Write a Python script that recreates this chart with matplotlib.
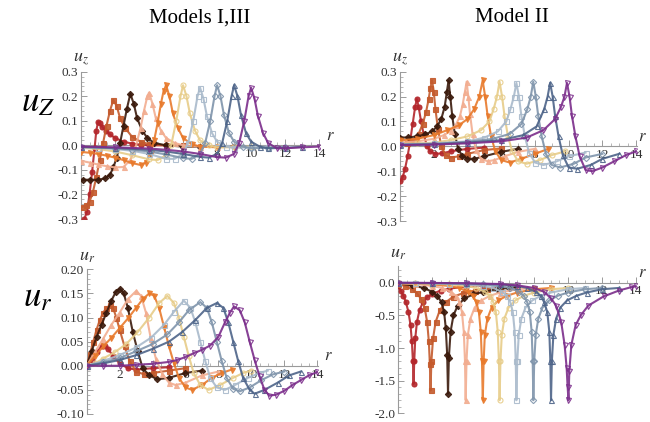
import numpy as np
import matplotlib
matplotlib.use("Agg")
import matplotlib.pyplot as plt
from matplotlib.ticker import MultipleLocator

plt.rcParams['font.family'] = ['Liberation Serif', 'DejaVu Serif']
plt.rcParams['mathtext.fontset'] = 'stix'

COLORS = ['#b3262b', '#c45a2c', '#3b1a0c', '#f2ad90', '#e87a2c',
          '#e7cc88', '#a9bacb', '#7f94ab', '#4d6489', '#7b2d8b']
MARKERS = ['o', 's', 'D', '^', 'v', 'o', 's', 'D', '^', 'v']
FILLED = [True] * 5 + [False] * 5

# top left: u_z, Models I,III
TL_R = [
    [0.2, 0.35, 0.5, 0.65, 0.8, 0.9, 1.0, 1.1, 1.25, 1.45, 1.7, 2.0, 2.5, 3.0, 3.5, 4.0, 5.0],
    [0.1, 0.3, 0.5, 0.7, 0.9, 1.1, 1.3, 1.5, 1.7, 1.9, 2.1, 2.3, 2.6, 3.0, 3.5, 4.0, 5.0, 6.0],
    [0.1, 0.5, 1.0, 1.4, 1.7, 1.9, 2.1, 2.3, 2.5, 2.7, 2.9, 3.1, 3.3, 3.6, 3.9, 4.3, 5.0, 6.0, 7.0],
    [0.0, 0.5, 1.0, 1.5, 2.0, 2.5, 2.9, 3.2, 3.5, 3.7, 3.9, 4.0, 4.2, 4.4, 4.7, 5.0, 5.5, 6.0, 7.0, 8.0],
    [0.0, 0.5, 1.0, 1.5, 2.0, 2.5, 3.0, 3.5, 3.8, 4.1, 4.3, 4.5, 4.7, 4.85, 5.0, 5.2, 5.4, 5.7, 6.0, 6.5, 7.0, 8.0, 9.0],
    [0.0, 1.0, 2.0, 3.0, 4.0, 4.5, 5.0, 5.3, 5.6, 5.85, 6.0, 6.2, 6.4, 6.7, 7.0, 7.5, 8.0, 9.0, 10.0],
    [0.0, 1.0, 2.0, 3.0, 4.0, 5.0, 5.5, 6.0, 6.3, 6.6, 6.85, 7.0, 7.2, 7.4, 7.7, 8.0, 8.5, 9.0, 10.0, 11.0],
    [0.0, 2.0, 3.0, 4.0, 5.0, 6.0, 6.5, 7.0, 7.3, 7.6, 7.85, 8.0, 8.2, 8.4, 8.7, 9.0, 9.5, 10.0, 11.0, 12.0],
    [0.0, 2.0, 4.0, 5.0, 6.0, 7.0, 7.5, 8.0, 8.3, 8.6, 8.85, 9.0, 9.2, 9.4, 9.7, 10.0, 10.5, 11.0, 12.0, 13.0],
    [0.0, 2.0, 4.0, 5.0, 6.0, 7.0, 8.0, 8.5, 9.0, 9.3, 9.6, 9.85, 10.0, 10.2, 10.4, 10.7, 11.0, 11.5, 12.0, 13.0, 14.0],
]
TL_U = [
    [-0.30, -0.27, -0.20, -0.11, -0.01, 0.06, 0.095, 0.09, 0.075, 0.06, 0.045, 0.03, 0.015, 0.007, 0.003, 0.0, 0.0],
    [-0.25, -0.245, -0.23, -0.19, -0.13, -0.06, 0.01, 0.08, 0.14, 0.185, 0.16, 0.11, 0.07, 0.035, 0.015, 0.005, 0.0, 0.0],
    [-0.14, -0.14, -0.14, -0.135, -0.12, -0.09, -0.05, 0.01, 0.08, 0.15, 0.21, 0.17, 0.11, 0.06, 0.03, 0.01, 0.0, -0.005, -0.005],
    [-0.063, -0.07, -0.078, -0.085, -0.09, -0.088, -0.06, -0.01, 0.07, 0.14, 0.2, 0.215, 0.17, 0.11, 0.06, 0.03, 0.01, 0.0, -0.005, -0.005],
    [-0.027, -0.03, -0.035, -0.042, -0.05, -0.06, -0.072, -0.08, -0.07, -0.03, 0.02, 0.09, 0.17, 0.22, 0.245, 0.2, 0.13, 0.07, 0.03, 0.005, -0.005, -0.008, -0.005],
    [-0.01, -0.015, -0.025, -0.04, -0.057, -0.06, -0.04, 0.0, 0.1, 0.2, 0.245, 0.2, 0.13, 0.06, 0.02, 0.0, -0.008, -0.008, -0.005],
    [-0.008, -0.01, -0.015, -0.022, -0.035, -0.055, -0.055, -0.035, 0.01, 0.1, 0.2, 0.235, 0.19, 0.12, 0.05, 0.015, -0.005, -0.01, -0.008, -0.005],
    [-0.007, -0.012, -0.017, -0.025, -0.037, -0.052, -0.055, -0.035, 0.01, 0.1, 0.2, 0.245, 0.2, 0.125, 0.05, 0.015, -0.005, -0.012, -0.01, -0.006],
    [-0.006, -0.01, -0.018, -0.025, -0.035, -0.047, -0.05, -0.035, 0.01, 0.1, 0.2, 0.245, 0.2, 0.125, 0.05, 0.015, -0.005, -0.012, -0.01, -0.006],
    [-0.005, -0.008, -0.013, -0.018, -0.025, -0.035, -0.048, -0.05, -0.035, 0.01, 0.1, 0.2, 0.235, 0.19, 0.12, 0.05, 0.01, -0.012, -0.012, -0.008, -0.005],
]

# top right: u_z, Model II
TR_R = [
    [0.0, 0.15, 0.3, 0.45, 0.6, 0.75, 0.9, 1.0, 1.1, 1.25, 1.4, 1.6, 1.8, 2.1, 2.5, 3.0, 4.0, 5.0],
    [0.0, 0.4, 0.8, 1.1, 1.35, 1.55, 1.7, 1.8, 1.9, 2.0, 2.1, 2.25, 2.45, 2.7, 3.0, 3.5, 4.0, 5.0, 6.0],
    [0.0, 0.5, 1.0, 1.5, 1.9, 2.2, 2.45, 2.65, 2.78, 2.88, 2.98, 3.1, 3.25, 3.45, 3.7, 4.0, 4.4, 5.0, 6.0, 7.0],
    [0.0, 1.0, 2.0, 2.6, 3.0, 3.3, 3.55, 3.72, 3.85, 3.95, 4.05, 4.15, 4.3, 4.5, 4.8, 5.2, 5.6, 6.2, 7.0, 8.0],
    [0.0, 1.0, 2.0, 2.8, 3.5, 4.0, 4.4, 4.7, 4.9, 5.05, 5.2, 5.4, 5.65, 6.0, 6.5, 7.2, 8.0, 8.8],
    [0.0, 1.0, 2.0, 3.0, 4.0, 4.8, 5.3, 5.55, 5.75, 5.9, 6.05, 6.2, 6.4, 6.65, 7.0, 7.5, 8.3, 9.0, 9.8],
    [0.0, 2.0, 4.0, 5.0, 5.8, 6.3, 6.55, 6.75, 6.9, 7.05, 7.2, 7.4, 7.65, 8.0, 8.5, 9.3, 10.0, 11.0],
    [0.0, 2.0, 4.0, 5.5, 6.5, 7.2, 7.55, 7.75, 7.9, 8.05, 8.2, 8.4, 8.65, 9.0, 9.5, 10.3, 11.0, 12.0],
    [0.0, 2.0, 4.0, 6.0, 7.3, 8.1, 8.55, 8.75, 8.9, 9.05, 9.2, 9.4, 9.65, 10.0, 10.5, 11.3, 12.0, 13.0],
    [0.0, 2.0, 4.0, 6.0, 7.5, 8.5, 9.2, 9.55, 9.75, 9.9, 10.05, 10.2, 10.4, 10.65, 11.0, 11.4, 12.0, 12.7, 13.4, 14.0],
]
TR_U = [
    [-0.14, -0.125, -0.09, -0.04, 0.02, 0.09, 0.16, 0.19, 0.16, 0.1, 0.05, 0.0, -0.02, -0.03, -0.028, -0.02, -0.01, -0.005],
    [0.01, 0.015, 0.025, 0.05, 0.09, 0.14, 0.19, 0.235, 0.265, 0.22, 0.15, 0.07, 0.0, -0.035, -0.045, -0.04, -0.03, -0.015, -0.008],
    [0.035, 0.036, 0.04, 0.048, 0.06, 0.08, 0.11, 0.16, 0.22, 0.265, 0.2, 0.12, 0.05, -0.01, -0.04, -0.05, -0.05, -0.04, -0.022, -0.01],
    [0.015, 0.02, 0.03, 0.045, 0.062, 0.085, 0.12, 0.17, 0.22, 0.26, 0.2, 0.13, 0.05, -0.015, -0.05, -0.06, -0.055, -0.04, -0.022, -0.01],
    [0.024, 0.03, 0.045, 0.065, 0.085, 0.11, 0.15, 0.2, 0.265, 0.2, 0.12, 0.04, -0.02, -0.055, -0.065, -0.05, -0.03, -0.01],
    [0.01, 0.012, 0.015, 0.025, 0.04, 0.065, 0.1, 0.15, 0.2, 0.26, 0.2, 0.12, 0.04, -0.02, -0.06, -0.07, -0.055, -0.035, -0.02],
    [0.008, 0.012, 0.02, 0.035, 0.06, 0.1, 0.15, 0.2, 0.255, 0.2, 0.12, 0.04, -0.025, -0.065, -0.075, -0.06, -0.04, -0.025],
    [0.007, 0.01, 0.018, 0.03, 0.05, 0.09, 0.15, 0.2, 0.26, 0.2, 0.12, 0.04, -0.03, -0.075, -0.085, -0.07, -0.045, -0.03],
    [0.006, 0.008, 0.015, 0.025, 0.045, 0.08, 0.15, 0.2, 0.255, 0.2, 0.12, 0.04, -0.035, -0.085, -0.09, -0.075, -0.05, -0.03],
    [0.005, 0.007, 0.012, 0.02, 0.035, 0.065, 0.11, 0.16, 0.2, 0.255, 0.2, 0.12, 0.04, -0.04, -0.095, -0.1, -0.085, -0.06, -0.035, -0.02],
]

# bottom left: u_r, Models I,III
BL_R = [
    [0.0, 0.3, 0.6, 0.9, 1.1, 1.3, 1.6, 2.0, 2.5, 3.0, 4.0, 5.0],
    [0.0, 0.2, 0.4, 0.6, 0.8, 1.0, 1.2, 1.4, 1.6, 1.8, 2.0, 2.3, 2.6, 3.0, 3.5, 4.0, 5.0, 6.0],
    [0.0, 0.3, 0.6, 0.9, 1.2, 1.5, 1.75, 2.0, 2.25, 2.5, 2.8, 3.1, 3.4, 3.8, 4.3, 5.0, 6.0, 7.0],
    [0.0, 0.5, 1.0, 1.5, 2.0, 2.5, 3.0, 3.3, 3.6, 3.9, 4.2, 4.6, 5.0, 5.4, 6.0, 7.0, 8.0],
    [0.0, 0.5, 1.0, 1.5, 2.0, 2.5, 3.0, 3.4, 3.8, 4.1, 4.4, 4.7, 5.0, 5.3, 5.6, 6.0, 6.4, 7.0, 7.6, 8.2, 8.8],
    [0.0, 0.5, 1.0, 1.7, 2.4, 3.1, 3.8, 4.4, 4.9, 5.3, 5.6, 5.9, 6.2, 6.5, 6.9, 7.4, 8.1, 8.9, 9.5, 10.0],
    [0.0, 1.0, 2.0, 3.0, 3.9, 4.7, 5.3, 5.9, 6.3, 6.6, 6.9, 7.2, 7.5, 7.9, 8.4, 9.0, 9.8, 10.5, 11.0],
    [0.0, 1.0, 2.0, 3.0, 4.0, 4.9, 5.6, 6.2, 6.9, 7.3, 7.6, 7.9, 8.2, 8.5, 8.9, 9.3, 9.9, 10.6, 11.3, 12.0],
    [0.0, 1.0, 2.0, 3.0, 4.0, 5.0, 5.8, 6.6, 7.3, 7.9, 8.3, 8.6, 8.9, 9.2, 9.5, 9.9, 10.2, 10.8, 11.6, 12.3, 13.0],
    [0.0, 1.0, 2.0, 3.0, 4.0, 5.0, 5.5, 6.0, 6.5, 7.0, 7.5, 8.0, 8.4, 8.7, 8.95, 9.3, 9.6, 9.9, 10.2, 10.5, 10.8, 11.1, 11.5, 12.0, 12.5, 13.0, 13.5, 14.0],
]
BL_U = [
    [0.0, 0.012, 0.028, 0.04, 0.042, 0.035, 0.02, 0.005, -0.005, -0.008, -0.005, -0.003],
    [0.0, 0.025, 0.05, 0.075, 0.095, 0.11, 0.12, 0.125, 0.12, 0.1, 0.075, 0.04, 0.01, -0.012, -0.018, -0.015, -0.01, -0.005],
    [0.0, 0.03, 0.06, 0.085, 0.11, 0.135, 0.152, 0.16, 0.15, 0.12, 0.07, 0.03, -0.005, -0.02, -0.028, -0.025, -0.015, -0.01],
    [0.0, 0.028, 0.056, 0.085, 0.11, 0.138, 0.155, 0.145, 0.11, 0.055, 0.015, -0.018, -0.035, -0.04, -0.035, -0.02, -0.012],
    [0.0, 0.02, 0.04, 0.058, 0.078, 0.098, 0.12, 0.138, 0.15, 0.145, 0.12, 0.08, 0.04, 0.005, -0.025, -0.045, -0.05, -0.04, -0.025, -0.015, -0.008],
    [0.0, 0.005, 0.015, 0.028, 0.045, 0.07, 0.1, 0.13, 0.145, 0.13, 0.1, 0.06, 0.02, -0.015, -0.04, -0.05, -0.04, -0.025, -0.015, -0.01],
    [0.0, 0.01, 0.022, 0.038, 0.058, 0.085, 0.112, 0.135, 0.12, 0.09, 0.05, 0.01, -0.025, -0.045, -0.05, -0.04, -0.025, -0.015, -0.01],
    [0.0, 0.007, 0.016, 0.03, 0.045, 0.065, 0.09, 0.115, 0.132, 0.12, 0.09, 0.05, 0.01, -0.025, -0.048, -0.053, -0.045, -0.03, -0.018, -0.012],
    [0.0, 0.005, 0.012, 0.022, 0.035, 0.05, 0.07, 0.095, 0.12, 0.13, 0.12, 0.09, 0.05, 0.01, -0.025, -0.05, -0.058, -0.05, -0.035, -0.02, -0.012],
    [0.0, 0.0, 0.0, 0.002, 0.004, 0.008, 0.012, 0.018, 0.026, 0.033, 0.042, 0.06, 0.09, 0.11, 0.123, 0.115, 0.09, 0.05, 0.012, -0.022, -0.05, -0.062, -0.06, -0.052, -0.04, -0.03, -0.02, -0.013],
]

# bottom right: u_r, Model II
BR_R = [
    [0.0, 0.15, 0.3, 0.45, 0.6, 0.72, 0.8, 0.86, 0.9, 0.94, 1.0, 1.1, 1.25, 1.45, 1.7, 2.0, 2.5, 3.0, 4.0, 5.0],
    [0.0, 0.4, 0.8, 1.1, 1.35, 1.55, 1.7, 1.8, 1.86, 1.9, 1.95, 2.05, 2.2, 2.45, 2.8, 3.2, 3.8, 4.5, 5.2, 6.0],
    [0.0, 0.8, 1.5, 2.0, 2.3, 2.55, 2.7, 2.8, 2.88, 2.93, 2.98, 3.08, 3.25, 3.5, 3.9, 4.4, 5.0, 5.8, 6.5, 7.0],
    [0.0, 1.0, 2.0, 2.6, 3.1, 3.4, 3.6, 3.75, 3.86, 3.93, 3.97, 4.02, 4.1, 4.25, 4.5, 4.9, 5.4, 6.0, 7.0, 8.0],
    [0.0, 1.0, 2.0, 3.0, 3.6, 4.1, 4.4, 4.6, 4.75, 4.86, 4.93, 4.98, 5.03, 5.1, 5.25, 5.5, 5.9, 6.4, 7.0, 8.0, 9.0],
    [0.0, 1.0, 2.0, 3.0, 4.0, 4.6, 5.1, 5.4, 5.6, 5.75, 5.86, 5.93, 5.97, 6.02, 6.1, 6.25, 6.5, 6.9, 7.4, 8.0, 9.0, 10.0],
    [0.0, 1.0, 2.0, 3.0, 4.0, 5.0, 5.6, 6.1, 6.4, 6.6, 6.75, 6.86, 6.92, 6.96, 7.01, 7.1, 7.25, 7.5, 7.9, 8.4, 9.0, 10.0, 11.0],
    [0.0, 2.0, 4.0, 5.0, 6.0, 6.6, 7.1, 7.4, 7.6, 7.75, 7.86, 7.92, 7.96, 8.01, 8.1, 8.25, 8.5, 8.9, 9.4, 10.0, 11.0, 12.0],
    [0.0, 2.0, 4.0, 6.0, 7.0, 7.6, 8.1, 8.4, 8.6, 8.78, 8.9, 8.96, 9.0, 9.05, 9.14, 9.3, 9.55, 9.95, 10.5, 11.1, 12.0, 13.0],
    [0.0, 2.0, 4.0, 6.0, 7.0, 8.0, 8.6, 9.0, 9.3, 9.6, 9.8, 9.92, 9.98, 10.03, 10.08, 10.2, 10.45, 10.75, 11.2, 12.1, 13.0, 13.7, 14.0],
]
BR_U = [
    [-0.05, -0.12, -0.2, -0.3, -0.45, -0.65, -0.9, -1.2, -1.55, -1.2, -0.85, -0.6, -0.42, -0.3, -0.22, -0.17, -0.12, -0.09, -0.06, -0.045],
    [-0.02, -0.05, -0.1, -0.16, -0.25, -0.38, -0.6, -0.9, -1.25, -1.65, -1.2, -0.85, -0.6, -0.42, -0.3, -0.22, -0.16, -0.12, -0.09, -0.07],
    [-0.01, -0.04, -0.08, -0.14, -0.2, -0.3, -0.45, -0.7, -1.1, -1.7, -1.15, -0.75, -0.5, -0.35, -0.24, -0.18, -0.14, -0.1, -0.08, -0.07],
    [-0.01, -0.02, -0.05, -0.08, -0.14, -0.2, -0.3, -0.45, -0.75, -1.2, -1.8, -1.2, -0.8, -0.55, -0.38, -0.27, -0.2, -0.15, -0.1, -0.08],
    [-0.005, -0.012, -0.025, -0.05, -0.08, -0.14, -0.2, -0.3, -0.45, -0.75, -1.2, -1.8, -1.2, -0.8, -0.55, -0.38, -0.27, -0.2, -0.15, -0.1, -0.08],
    [-0.004, -0.008, -0.015, -0.025, -0.05, -0.08, -0.14, -0.2, -0.3, -0.45, -0.75, -1.2, -1.8, -1.2, -0.8, -0.55, -0.38, -0.27, -0.2, -0.15, -0.1, -0.08],
    [-0.003, -0.006, -0.01, -0.015, -0.025, -0.05, -0.08, -0.14, -0.2, -0.3, -0.45, -0.75, -1.2, -1.8, -1.2, -0.8, -0.55, -0.38, -0.27, -0.2, -0.15, -0.1, -0.08],
    [-0.003, -0.006, -0.012, -0.025, -0.05, -0.08, -0.14, -0.2, -0.3, -0.45, -0.75, -1.2, -1.8, -1.2, -0.8, -0.55, -0.38, -0.27, -0.2, -0.15, -0.1, -0.08],
    [-0.002, -0.005, -0.01, -0.025, -0.05, -0.08, -0.14, -0.2, -0.3, -0.45, -0.75, -1.2, -1.8, -1.2, -0.8, -0.55, -0.38, -0.27, -0.2, -0.15, -0.1, -0.08],
    [-0.001, -0.003, -0.008, -0.02, -0.04, -0.08, -0.14, -0.24, -0.35, -0.6, -0.95, -1.3, -1.6, -1.8, -1.35, -0.95, -0.65, -0.5, -0.35, -0.21, -0.12, -0.07, -0.055],
]

YT_UZ = [-0.3, -0.2, -0.1, 0.0, 0.1, 0.2, 0.3]
YL_UZ = ['-0.3', '-0.2', '-0.1', '0.0', '0.1', '0.2', '0.3']
YT_URI = [-0.10, -0.05, 0.0, 0.05, 0.10, 0.15, 0.20]
YL_URI = ['-0.10', '-0.05', '0.00', '0.05', '0.10', '0.15', '0.20']
YT_URII = [-2.0, -1.5, -1.0, -0.5, 0.0]
YL_URII = ['-2.0', '-1.5', '-1.0', '-0.5', '0.0']
XT = [2, 4, 6, 8, 10, 12, 14]

W, H = 650, 422
fig = plt.figure(figsize=(6.5, 4.22), dpi=100)


def px_axes(x0, x1, ytop, ybot):
    return fig.add_axes([x0 / W, (H - ybot) / H, (x1 - x0) / W, (ybot - ytop) / H])


def draw(ax, rs, us, ylim, yt, yl, yminor, lab, rpad=4):
    for r, u, c, m, f in zip(rs, us, COLORS, MARKERS, FILLED):
        ax.plot(r, u, color=c, lw=1.5, alpha=0.9, marker=m,
                ms=3.6 if m != 'D' else 3.2, mew=0.8,
                mfc=c if f else 'none', mec=c, zorder=3)
    ax.set_xlim(0, 14.05)
    ax.set_ylim(*ylim)
    for s in ['top', 'right']:
        ax.spines[s].set_visible(False)
    ax.spines['left'].set_position(('data', 0))
    ax.spines['bottom'].set_position(('data', 0))
    for s in ['left', 'bottom']:
        ax.spines[s].set_color('#9a9a9a')
        ax.spines[s].set_linewidth(0.8)
        ax.spines[s].set_zorder(1)
    ax.set_xticks(XT)
    ax.set_xticklabels([str(t) for t in XT])
    ax.xaxis.set_minor_locator(MultipleLocator(0.5))
    ax.set_yticks(yt)
    ax.set_yticklabels(yl)
    ax.yaxis.set_minor_locator(MultipleLocator(yminor))
    ax.tick_params(which='both', direction='in', colors='#9a9a9a',
                   labelcolor='#333333', labelsize=9.5, pad=2)
    ax.tick_params(which='major', length=4, width=0.7)
    ax.tick_params(which='minor', length=2, width=0.5)
    ax.patch.set_alpha(0)
    ax.annotate(lab, xy=(0, ylim[1]), xycoords='data', xytext=(0, 3),
                textcoords='offset points', ha='center', va='bottom',
                fontsize=13, color='#333333', annotation_clip=False)
    ax.annotate('$r$', xy=(14.05, 0), xycoords='data', xytext=(rpad, 1),
                textcoords='offset points', ha='left', va='bottom',
                fontsize=12, color='#333333', annotation_clip=False)


ax1 = px_axes(81, 320, 71.7, 219)
draw(ax1, TL_R, TL_U, (-0.3, 0.3), YT_UZ, YL_UZ, 0.02, '$u_z$')
ax2 = px_axes(400, 637, 71.7, 221)
draw(ax2, TR_R, TR_U, (-0.3, 0.3), YT_UZ, YL_UZ, 0.02, '$u_z$', rpad=1)
ax3 = px_axes(86.7, 318, 269.3, 414)
draw(ax3, BL_R, BL_U, (-0.10, 0.20), YT_URI, YL_URI, 0.01, '$u_r$')
ax4 = px_axes(398.3, 636.7, 266.4, 413.3)
draw(ax4, BR_R, BR_U, (-2.0, 0.25), YT_URII, YL_URII, 0.1, '$u_r$', rpad=1)

fig.text(200 / W, 1 - 18 / H, 'Models I,III', ha='center', va='center', fontsize=15)
fig.text(512 / W, 1 - 18 / H, 'Model II', ha='center', va='center', fontsize=15)
fig.text(38 / W, 1 - 103 / H, '$u_Z$', ha='center', va='center', fontsize=25)
fig.text(38 / W, 1 - 298 / H, '$u_r$', ha='center', va='center', fontsize=25)

fig.savefig('out.png', dpi=100)
